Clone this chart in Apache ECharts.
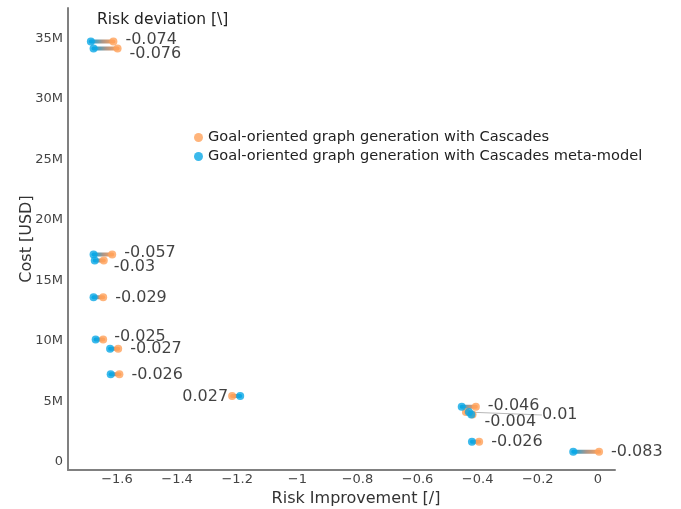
<!DOCTYPE html>
<html>
<head>
<meta charset="utf-8">
<script src="https://cdn.jsdelivr.net/npm/echarts@6/dist/echarts.min.js"></script>
<style>
html,body{margin:0;padding:0;background:#fff;}
#chart{width:681px;height:509px;}
</style>
</head>
<body>
<div id="chart"></div>
<script>
// ---- data ----
const costUSD = [34740000, 34160000, 17140000, 16640000, 13610000, 10120000, 9350000, 7240000, 5450000, 4560000, 3920000, 4130000, 1670000, 850000];
const cascadesRisk = [-1.612, -1.598, -1.616, -1.644, -1.646, -1.646, -1.596, -1.592, -1.217, -0.406, -0.417, -0.439, -0.395, 0.004];
const metaModelRisk = [-1.687, -1.678, -1.678, -1.674, -1.678, -1.671, -1.623, -1.621, -1.190, -0.453, -0.421, -0.429, -0.419, -0.082];
const riskDeviation = ['-0.074', '-0.076', '-0.057', '-0.03', '-0.029', '-0.025', '-0.027', '-0.026', '0.027', '-0.046', '-0.004', '0.01', '-0.026', '-0.083'];
const seriesNames = ['Goal-oriented graph generation with Cascades', 'Goal-oriented graph generation with Cascades meta-model'];

// ---- layout (label placement only) ----
const labelSide = ['right','right','right','right','right','right','right','right','left','right','right','right','right','right'];
const labelShift = [[0,-2],[0,5],[0,-2],[-2,6],[0,1],[-1,-3],[0,0],[0,0],[8,1],[0,-1],[0,7],[64,3],[0,0],[0,0]];

const ORANGE = '#FFA15A';
const BLUE = '#0AA8E6';

const chart = echarts.init(document.getElementById('chart'), null, {renderer: 'canvas'});

const fmtX = v => v === 0 ? '0' : (v < 0 ? '\u2212' + Math.abs(Math.round(v*10)/10) : String(Math.round(v*10)/10));
const fmtY = v => v === 0 ? '0' : (Math.round(v/1e6)) + 'M';

const cascadesData = cascadesRisk.map((x, i) => {
  const item = {
    value: [x, costUSD[i]],
    label: {position: labelSide[i], formatter: riskDeviation[i]}
  };
  if (labelShift[i][0] > 30) {
    item.labelLine = {show: true, lineStyle: {color: '#b8b8b8', width: 1}};
  }
  return item;
});

const option = {
  backgroundColor: '#fff',
  animation: false,
  textStyle: {fontFamily: 'DejaVu Sans'},
  title: {
    text: 'Risk deviation [\\]',
    left: 92, top: 7,
    textStyle: {fontSize: 15.5, fontWeight: 'normal', color: '#222', fontFamily: 'DejaVu Sans'}
  },
  legend: {
    data: seriesNames,
    orient: 'vertical',
    left: 189, top: 125,
    itemWidth: 9, itemHeight: 9,
    itemGap: 4,
    icon: 'circle',
    textStyle: {fontSize: 14.6, color: '#222', fontFamily: 'DejaVu Sans'}
  },
  grid: {left: 68, right: 66, top: 8, bottom: 39, containLabel: false, outerBoundsMode: 'none'},
  xAxis: {
    type: 'value',
    min: -1.763, max: 0.057,
    splitNumber: 9,
    name: 'Risk Improvement [/]',
    nameLocation: 'middle',
    nameGap: 21,
    nameMoveOverlap: false,
    nameTextStyle: {fontSize: 16, color: '#333', padding: [0,0,0,29]},
    axisLine: {show: true, onZero: false, lineStyle: {color: '#808080', width: 2}},
    axisTick: {show: false},
    splitLine: {show: false},
    axisLabel: {formatter: fmtX, fontSize: 13, color: '#444', margin: 3, showMinLabel: false, showMaxLabel: false}
  },
  yAxis: {
    type: 'value',
    min: -660000, max: 37500000,
    splitNumber: 8,
    name: 'Cost [USD]',
    nameLocation: 'middle',
    nameGap: 33,
    nameMoveOverlap: false,
    nameTextStyle: {fontSize: 16, color: '#333'},
    axisLine: {show: true, onZero: false, lineStyle: {color: '#808080', width: 2}},
    axisTick: {show: false},
    splitLine: {show: false},
    axisLabel: {formatter: fmtY, fontSize: 13, color: '#444', margin: 5, showMinLabel: false, showMaxLabel: false}
  },
  series: [
    {
      type: 'custom',
      name: 'connector',
      z: 1,
      silent: true,
      data: cascadesRisk.map((x, i) => [x, costUSD[i], metaModelRisk[i]]),
      encode: {x: [0, 2], y: 1},
      renderItem: function (params, api) {
        const a = api.coord([api.value(0), api.value(1)]);
        const b = api.coord([api.value(2), api.value(1)]);
        return {
          type: 'line',
          shape: {x1: a[0], y1: a[1], x2: b[0], y2: b[1]},
          style: {
            stroke: new echarts.graphic.LinearGradient(a[0], a[1], b[0] + 0.01, b[1], [
              {offset: 0, color: ORANGE},
              {offset: 0.5, color: '#a9968a'},
              {offset: 1, color: BLUE}
            ], true),
            lineWidth: 4,
            lineCap: 'round'
          }
        };
      }
    },
    {
      type: 'scatter',
      name: seriesNames[0],
      z: 2,
      symbol: 'circle',
      symbolSize: 8,
      itemStyle: {color: ORANGE},
      data: cascadesData,
      label: {show: true, distance: 8, fontSize: 16, color: '#111', fontFamily: 'DejaVu Sans'},
      labelLayout: function (p) {
        return {dx: labelShift[p.dataIndex][0], dy: labelShift[p.dataIndex][1]};
      }
    },
    {
      type: 'scatter',
      name: seriesNames[1],
      z: 3,
      symbol: 'circle',
      symbolSize: 8,
      itemStyle: {color: BLUE},
      data: metaModelRisk.map((x, i) => [x, costUSD[i]])
    }
  ]
};
chart.setOption(option);
</script>
</body>
</html>
